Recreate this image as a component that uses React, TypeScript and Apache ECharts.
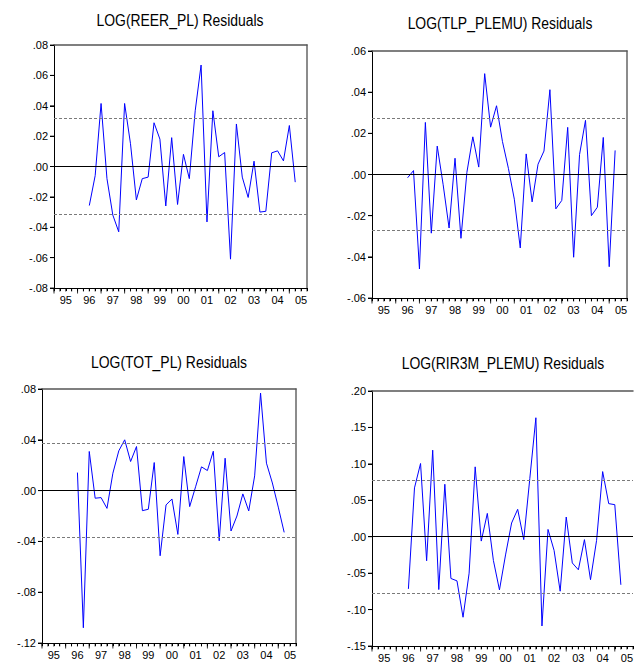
import React, { useEffect, useRef } from "react";
import * as echarts from "echarts";

// Quarterly periods 1995Q1 .. 2005Q4
const years = ["1995", "1996", "1997", "1998", "1999", "2000", "2001", "2002", "2003", "2004", "2005"];
const quarterNames = ["Q1", "Q2", "Q3", "Q4"];
const periods: string[] = [];
years.forEach((y) => quarterNames.forEach((q) => periods.push(y + q)));

// residual series start at 1996Q3
const firstPeriod = "1996Q3";

const reerValues = [
  -0.0257, -0.006, 0.0415, -0.008, -0.032, -0.043, 0.0415, 0.015, -0.022, -0.008,
  -0.007, 0.0288, 0.018, -0.026, 0.019, -0.025, 0.008, -0.008, 0.0367, 0.0668,
  -0.0365, 0.0367, 0.0064, 0.0092, -0.061, 0.028, -0.007, -0.0204, 0.0035, -0.030,
  -0.0295, 0.009, 0.0103, 0.0037, 0.027, -0.0103,
];
const tlpValues = [
  -0.0016, 0.0019, -0.0459, 0.0253, -0.0285, 0.0138, -0.005, -0.026, 0.0079, -0.031,
  0.001, 0.0183, 0.0036, 0.049, 0.023, 0.0334, 0.016, 0.003, -0.012, -0.0357,
  0.010, -0.0133, 0.005, 0.0114, 0.0412, -0.0167, -0.0126, 0.0229, -0.0402, 0.0097,
  0.0263, -0.020, -0.0159, 0.018, -0.0448, 0.0117,
];
const totValues = [
  0.0142, -0.108, 0.0308, -0.006, -0.0055, -0.014, 0.0137, 0.0313, 0.040, 0.0229,
  0.0347, -0.0158, -0.0147, 0.0221, -0.0513, -0.0113, -0.0066, -0.0345, 0.0268, -0.0126,
  0.003, 0.0187, 0.0158, 0.031, -0.0395, 0.0255, -0.0318, -0.020, -0.0026, -0.016,
  0.0116, 0.0768, 0.0216, 0.006, -0.013, -0.0329,
];
const rirValues = [
  -0.0716, 0.067, 0.1005, -0.033, 0.1188, -0.0725, 0.072, -0.0573, -0.0606, -0.1105,
  -0.05, 0.0959, -0.006, 0.032, -0.0326, -0.073, -0.025, 0.0188, 0.0376, -0.004,
  0.08, 0.1633, -0.1225, 0.010, -0.0188, -0.0748, 0.027, -0.036, -0.0454, -0.004,
  -0.059, -0.005, 0.0894, 0.0454, 0.044, -0.066,
];

const titles = ["LOG(REER_PL) Residuals", "LOG(TLP_PLEMU) Residuals", "LOG(TOT_PL) Residuals", "LOG(RIR3M_PLEMU) Residuals"];
const seriesValues = [reerValues, tlpValues, totValues, rirValues];
const bands = [0.0316, 0.0272, 0.037, 0.0775];
const yMins = [-0.08, -0.06, -0.12, -0.15];
const yMaxs = [0.08, 0.06, 0.08, 0.2];
const yIntervals = [0.02, 0.02, 0.04, 0.05];

const FONT = '"Liberation Sans", Arial, sans-serif';

const layouts = [
  { left: 54, top: 45, width: 253, height: 243, tx: 180, ty: 20, rightBorder: true },
  { left: 372, top: 51, width: 255, height: 247, tx: 500, ty: 23, rightBorder: true },
  { left: 42, top: 389, width: 254, height: 254, tx: 169, ty: 362, rightBorder: true },
  { left: 372, top: 391, width: 261, height: 255, tx: 503, ty: 363, rightBorder: false },
];

function fmt(v: number): string {
  if (Math.abs(v) < 1e-9) return ".00";
  return v.toFixed(2).replace("0.", ".");
}

function yearLabel(v: number): string {
  const idx = Math.round(v);
  if (idx % 4 !== 2 || idx < 0 || idx >= periods.length) return "";
  return periods[idx].slice(2, 4);
}

export default function App() {
  const ref = useRef<HTMLDivElement>(null);
  useEffect(() => {
    if (!ref.current) return;
    const chart = echarts.init(ref.current, undefined, { renderer: "svg" });
    const startIndex = periods.indexOf(firstPeriod);
    const xMax = periods.length - 1;
    const grid: any[] = [];
    const xAxis: any[] = [];
    const yAxis: any[] = [];
    const series: any[] = [];
    const graphic: any[] = [];
    layouts.forEach((L, i) => {
      grid.push({ left: L.left, top: L.top, width: L.width, height: L.height, containLabel: false });
      const xBase = xAxis.length;
      xAxis.push({
        type: "value", gridIndex: i, min: 0, max: xMax, interval: 1, position: "bottom",
        axisLine: { show: true, onZero: false, lineStyle: { color: "#000", width: 1 } },
        axisTick: { show: true, length: 3, lineStyle: { color: "#000", width: 1 } },
        axisLabel: {
          formatter: yearLabel, showMinLabel: true, showMaxLabel: true,
          fontSize: 11, color: "#000", margin: 6, fontFamily: FONT,
        },
        splitLine: { show: false },
      });
      xAxis.push({
        type: "value", gridIndex: i, min: 0, max: xMax, position: "top",
        axisLine: { show: true, onZero: false, lineStyle: { color: "#555", width: 1.5 } },
        axisTick: { show: false }, axisLabel: { show: false }, splitLine: { show: false },
      });
      const yBase = yAxis.length;
      yAxis.push({
        type: "value", gridIndex: i, min: yMins[i], max: yMaxs[i], interval: yIntervals[i], position: "left",
        axisLine: { show: true, onZero: false, lineStyle: { color: "#000", width: 1 } },
        axisTick: { show: true, length: 4, lineStyle: { color: "#000" } },
        axisLabel: { formatter: fmt, fontSize: 11, color: "#000", margin: 6, fontFamily: FONT },
        splitLine: { show: false },
      });
      if (L.rightBorder) {
        yAxis.push({
          type: "value", gridIndex: i, min: yMins[i], max: yMaxs[i], interval: yIntervals[i], position: "right",
          axisLine: { show: true, onZero: false, lineStyle: { color: "#666", width: 1.5 } },
          axisTick: { show: false }, axisLabel: { show: false }, splitLine: { show: false },
        });
      }
      const band = bands[i];
      series.push({
        type: "line",
        xAxisIndex: xBase,
        yAxisIndex: yBase,
        data: seriesValues[i].map((v, k) => [startIndex + k, v]),
        showSymbol: false,
        symbol: "none",
        lineStyle: { color: "#0000ff", width: 1 },
        markLine: {
          silent: true,
          precision: 5,
          symbol: ["none", "none"],
          label: { show: false },
          data: [
            { yAxis: 0, lineStyle: { color: "#000", type: "solid", width: 1 } },
            { yAxis: band, lineStyle: { color: "#7a7a7a", type: [3, 2], width: 1 } },
            { yAxis: -band, lineStyle: { color: "#7a7a7a", type: [3, 2], width: 1 } },
          ],
        },
      });
      // quarter ticks below the time axis
      series.push({
        type: "scatter", xAxisIndex: xBase, yAxisIndex: yBase, silent: true, clip: false,
        data: periods.map((p, k) => [k, yMins[i]]),
        symbol: "rect", symbolSize: [1, 3], symbolOffset: [0, 2],
        itemStyle: { color: "#000" },
        z: 5,
      });
      // longer year ticks
      series.push({
        type: "scatter", xAxisIndex: xBase, yAxisIndex: yBase, silent: true, clip: false,
        data: periods.map((p, k) => [k, yMins[i]]).filter((d) => d[0] % 4 === 0),
        symbol: "rect", symbolSize: [1, 5], symbolOffset: [0, 3],
        itemStyle: { color: "#000" },
        z: 5,
      });
      // value ticks left of the value axis
      const yTicks: number[] = [];
      for (let k = 0; yMins[i] + k * yIntervals[i] <= yMaxs[i] + 1e-9; k++) yTicks.push(yMins[i] + k * yIntervals[i]);
      series.push({
        type: "scatter", xAxisIndex: xBase, yAxisIndex: yBase, silent: true, clip: false,
        data: yTicks.map((t) => [0, t]),
        symbol: "rect", symbolSize: [4, 1], symbolOffset: [-2, 0],
        itemStyle: { color: "#000" },
        z: 5,
      });
      graphic.push({
        type: "text", x: L.tx, y: L.ty, scaleX: 0.87,
        style: {
          text: titles[i], fill: "#000", fontSize: 16, fontFamily: FONT,
          textAlign: "center", textVerticalAlign: "middle",
        },
      });
    });
    chart.setOption({
      animation: false,
      backgroundColor: "#fff",
      grid, xAxis, yAxis, series, graphic,
    });
    return () => chart.dispose();
  }, []);
  return (
    <div
      ref={ref}
      style={{ position: "absolute", left: 0, top: 0, width: 641, height: 666, background: "#fff" }}
    />
  );
}
